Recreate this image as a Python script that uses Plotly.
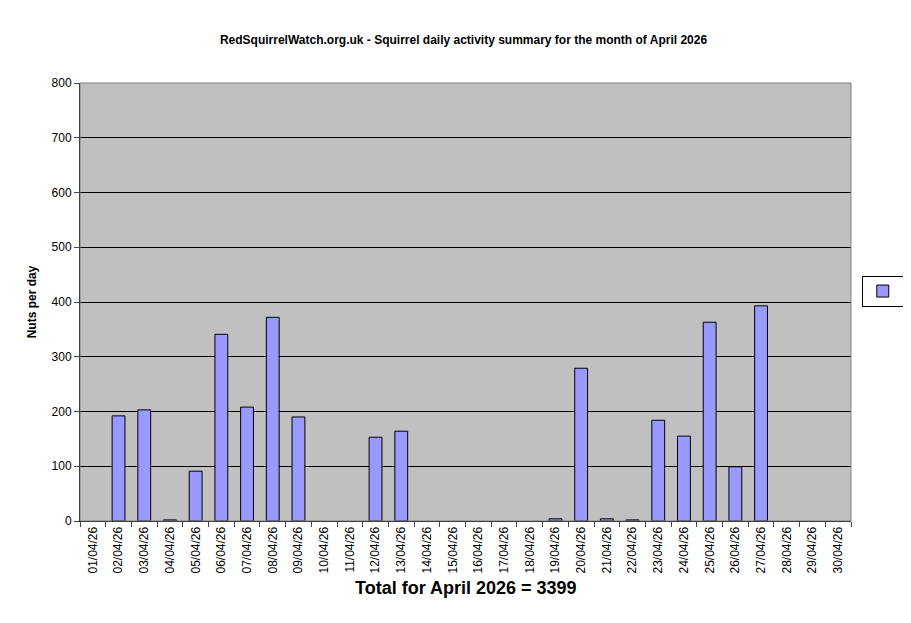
import plotly.graph_objects as go

days = ['%02d/04/26' % d for d in range(1, 31)]
nuts = [0, 192, 203, 2, 91, 341, 208, 372, 190, 0, 0, 153, 164, 0, 0,
        0, 0, 0, 4, 279, 4, 2, 184, 155, 363, 99, 393, 0, 0, 0]
total_text = 'Total for April 2026 = 3399'

fnt = 'Liberation Sans, Arial, sans-serif'

# zero days draw no bar in the original
shown = [v if v > 0 else None for v in nuts]

fig = go.Figure(go.Bar(
    x=days, y=shown, name='Nuts', width=0.5,
    marker=dict(color='#9999ff', line=dict(color='black', width=1)),
))

fig.update_layout(
    width=911, height=623,
    paper_bgcolor='white', plot_bgcolor='#c0c0c0',
    margin=dict(l=72, r=68, t=75, b=110, autoexpand=False),
    title=dict(text='<b>RedSquirrelWatch.org.uk - Squirrel daily activity summary for the month of April 2026</b>',
               x=0.5, xanchor='center', y=0.955, font=dict(family=fnt, size=12, color='black')),
    font=dict(family=fnt, size=12, color='black'),
    showlegend=True,
    legend=dict(x=1.014, y=0.525, xanchor='left', yanchor='middle', bgcolor='white',
                bordercolor='black', borderwidth=1, font=dict(size=12),
                itemwidth=30, tracegroupgap=0),
    bargap=0.5,
    xaxis=dict(tickangle=-90, ticks='outside', tickson='boundaries', ticklen=5,
               showline=True, linecolor='black', showgrid=False, automargin=False,
               tickfont=dict(size=12)),
    yaxis=dict(range=[0, 800], dtick=100, ticks='outside', ticklen=5, automargin=False,
               showline=True, linecolor='black', gridcolor='black', gridwidth=1,
               zeroline=False,
               title=dict(text='<b>Nuts per day</b>', font=dict(size=12), standoff=12)),
    annotations=[dict(text='<b>' + total_text + '</b>', xref='paper', yref='paper',
                      x=0.5, y=-0.18, showarrow=False, font=dict(size=18, family=fnt))],
    shapes=[dict(type='rect', xref='paper', yref='paper', x0=0, y0=0, x1=1, y1=1,
                 line=dict(color='#808080', width=1))],
)

fig.write_html('out.html')
